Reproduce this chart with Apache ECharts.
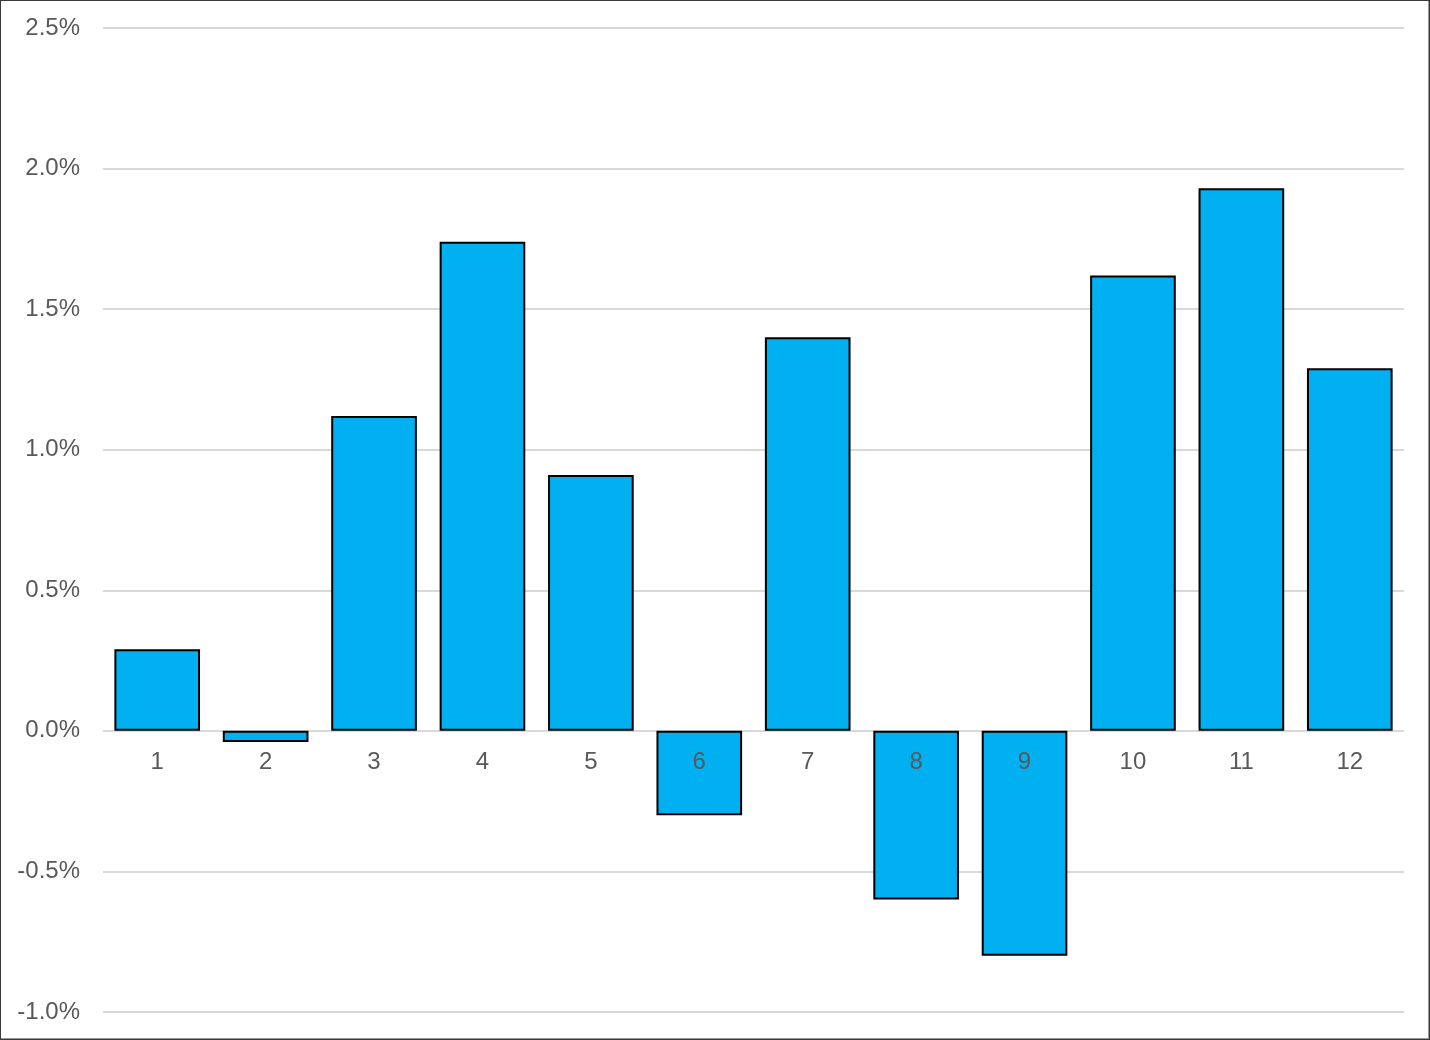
<!DOCTYPE html>
<html><head><meta charset="utf-8">
<script src="https://cdn.jsdelivr.net/npm/echarts@6/dist/echarts.min.js"></script>
<style>
html,body{margin:0;padding:0;background:#fff;}
#frame{position:absolute;left:0;top:0;width:1430px;height:1040px;box-sizing:border-box;border:1px solid #3a3a3a;box-shadow:inset -1px -1px 0 #999;}
#c{position:absolute;left:0;top:0;width:1430px;height:1040px;}
</style></head><body>
<div id="c"></div><div id="frame"></div>
<script>
const categories = ['1','2','3','4','5','6','7','8','9','10','11','12'];
const values = [0.29, -0.04, 1.12, 1.74, 0.91, -0.30, 1.40, -0.60, -0.80, 1.62, 1.93, 1.29];
const yMin = -1.0, yMax = 2.5, yStep = 0.5;

const W = 1430, H = 1040;
const grid = {left:103, right:26, top:28, bottom:28};
const plotH = H - grid.top - grid.bottom;
const zeroOffset = -plotH * (0 - yMin) / (yMax - yMin);

const chart = echarts.init(document.getElementById('c'), null, {renderer:'canvas'});
chart.setOption({
  animation:false,
  backgroundColor:'#fff',
  grid:Object.assign({containLabel:false, outerBoundsMode:'none'}, grid),
  xAxis:{
    type:'category', data:categories, z:10, offset:zeroOffset, position:'bottom',
    axisLine:{show:false, onZero:false}, axisTick:{show:false},
    axisLabel:{color:'#595959', fontSize:24, fontFamily:'Liberation Sans, Arial, sans-serif', margin:20}
  },
  yAxis:{
    type:'value', min:yMin, max:yMax, interval:yStep,
    axisLine:{show:false}, axisTick:{show:false},
    splitLine:{lineStyle:{color:'#d9d9d9', width:2}},
    axisLabel:{color:'#595959', fontSize:24, fontFamily:'Liberation Sans, Arial, sans-serif', margin:23,
      formatter:v=>v.toFixed(1)+'%'}
  },
  series:[{
    type:'bar', data:values, barWidth:'79%',
    itemStyle:{color:'#00b0f0', borderColor:'#000', borderWidth:2}
  }]
});
</script></body></html>
